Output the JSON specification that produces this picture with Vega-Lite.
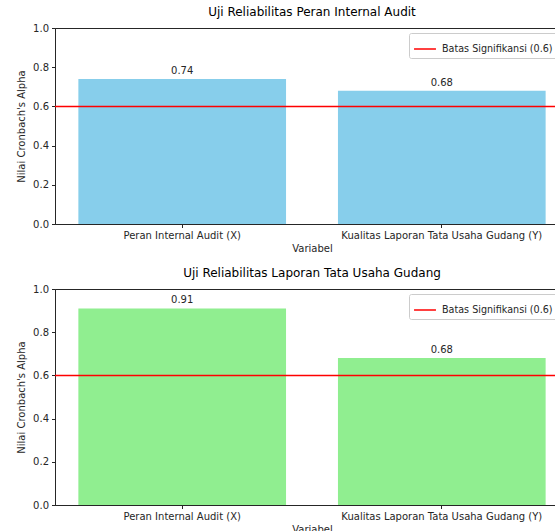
{
  "$schema": "https://vega.github.io/schema/vega-lite/v6.json",
  "padding": {"left": 16, "top": 5, "right": 0, "bottom": 0},
  "spacing": 12,
  "resolve": {"scale": {"color": "independent"}, "legend": {"color": "independent"}},
  "config": {
    "font": "DejaVu Sans",
    "view": {"stroke": "#262626", "strokeWidth": 1},
    "axis": {
      "labelFont": "DejaVu Sans", "labelFontSize": 10, "labelColor": "#262626",
      "titleFont": "DejaVu Sans", "titleFontSize": 10, "titleFontWeight": "normal", "titleColor": "#262626",
      "domainColor": "#262626", "tickColor": "#262626", "tickSize": 3.5, "grid": false, "labelPadding": 3,
      "labelOverlap": false, "labelLimit": 0
    },
    "title": {"font": "DejaVu Sans", "fontSize": 12, "fontWeight": "normal", "color": "#000000", "anchor": "middle", "offset": 4},
    "legend": {"labelFont": "DejaVu Sans", "labelFontSize": 9.6, "labelColor": "#262626"}
  },
  "vconcat": [
    {
      "width": 514,
      "height": 196,
      "title": "Uji Reliabilitas Peran Internal Audit",
      "data": {"values": [
        {"Variabel": "Peran Internal Audit (X)", "Alpha": 0.74},
        {"Variabel": "Kualitas Laporan Tata Usaha Gudang (Y)", "Alpha": 0.68}
      ]},
      "layer": [
        {
          "mark": {"type": "bar", "color": "#87ceeb"},
          "encoding": {
            "x": {"field": "Variabel", "type": "nominal", "sort": null, "title": "Variabel",
                  "scale": {"paddingInner": 0.2, "paddingOuter": 0.09},
                  "axis": {"labelAngle": 0, "titleY": 19}},
            "y": {"field": "Alpha", "type": "quantitative", "title": "Nilai Cronbach's Alpha",
                  "scale": {"domain": [0, 1], "nice": false},
                  "axis": {"values": [0, 0.2, 0.4, 0.6, 0.8, 1.0], "tickCount": 6, "format": ".1f", "titlePadding": 6, "labelOverlap": false, "labelFlush": false}}
          }
        },
        {
          "mark": {"type": "text", "dy": -8, "fontSize": 10, "color": "#262626", "font": "DejaVu Sans"},
          "encoding": {
            "x": {"field": "Variabel", "type": "nominal", "sort": null},
            "y": {"field": "Alpha", "type": "quantitative"},
            "text": {"field": "Alpha", "type": "quantitative", "format": ".2f"}
          }
        },
        {
          "data": {"values": [{"batas": 0.6}]},
          "mark": {"type": "rule", "strokeWidth": 1.5},
          "encoding": {
            "y": {"field": "batas", "type": "quantitative"},
            "color": {"datum": "Batas Signifikansi (0.6)", "type": "nominal",
                      "scale": {"range": ["#ff0000"]},
                      "legend": {"title": null, "orient": "none", "legendX": 354, "legendY": 5, "symbolType": "stroke", "symbolStrokeWidth": 1.5, "symbolSize": 480, "labelOffset": 5,
                                 "fillColor": "white", "strokeColor": "#cccccc", "padding": 4, "cornerRadius": 2}}
          }
        }
      ]
    },
    {
      "width": 514,
      "height": 216,
      "title": "Uji Reliabilitas Laporan Tata Usaha Gudang",
      "data": {"values": [
        {"Variabel": "Peran Internal Audit (X)", "Alpha": 0.91},
        {"Variabel": "Kualitas Laporan Tata Usaha Gudang (Y)", "Alpha": 0.68}
      ]},
      "layer": [
        {
          "mark": {"type": "bar", "color": "#90ee90"},
          "encoding": {
            "x": {"field": "Variabel", "type": "nominal", "sort": null, "title": "Variabel",
                  "scale": {"paddingInner": 0.2, "paddingOuter": 0.09},
                  "axis": {"labelAngle": 0, "titleY": 19}},
            "y": {"field": "Alpha", "type": "quantitative", "title": "Nilai Cronbach's Alpha",
                  "scale": {"domain": [0, 1], "nice": false},
                  "axis": {"values": [0, 0.2, 0.4, 0.6, 0.8, 1.0], "tickCount": 6, "format": ".1f", "titlePadding": 6, "labelOverlap": false, "labelFlush": false}}
          }
        },
        {
          "mark": {"type": "text", "dy": -8, "fontSize": 10, "color": "#262626", "font": "DejaVu Sans"},
          "encoding": {
            "x": {"field": "Variabel", "type": "nominal", "sort": null},
            "y": {"field": "Alpha", "type": "quantitative"},
            "text": {"field": "Alpha", "type": "quantitative", "format": ".2f"}
          }
        },
        {
          "data": {"values": [{"batas": 0.6}]},
          "mark": {"type": "rule", "strokeWidth": 1.5},
          "encoding": {
            "y": {"field": "batas", "type": "quantitative"},
            "color": {"datum": "Batas Signifikansi (0.6)", "type": "nominal",
                      "scale": {"range": ["#ff0000"]},
                      "legend": {"title": null, "orient": "none", "legendX": 354, "legendY": 5, "symbolType": "stroke", "symbolStrokeWidth": 1.5, "symbolSize": 480, "labelOffset": 5,
                                 "fillColor": "white", "strokeColor": "#cccccc", "padding": 4, "cornerRadius": 2}}
          }
        }
      ]
    }
  ]
}
